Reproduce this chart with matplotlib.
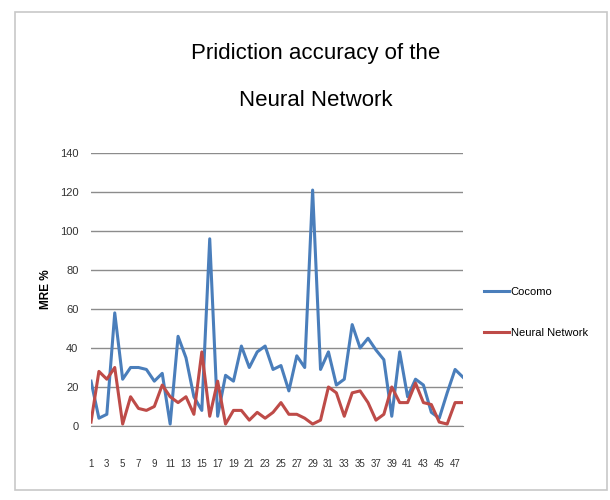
import matplotlib
matplotlib.use("Agg")
import matplotlib.pyplot as plt
from matplotlib.patches import Rectangle

categories = list(range(1, 49))
cocomo = [23, 4, 6, 58, 24, 30, 30, 29, 23, 27, 1, 46, 35, 15, 8, 96, 5, 26, 23, 41,
          30, 38, 41, 29, 31, 18, 36, 30, 121, 29, 38, 21, 24, 52, 40, 45, 39, 34, 5, 38,
          15, 24, 21, 7, 4, 17, 29, 25]
neural = [2, 28, 24, 30, 1, 15, 9, 8, 10, 21, 15, 12, 15, 6, 38, 5, 23, 1, 8, 8,
          3, 7, 4, 7, 12, 6, 6, 4, 1, 3, 20, 17, 5, 17, 18, 12, 3, 6, 20, 12,
          12, 22, 12, 11, 2, 1, 12, 12]
tick_labels = [str(c) for c in categories if c % 2 == 1]
yticks = [0, 20, 40, 60, 80, 100, 120, 140]

font = "Liberation Sans"

fig = plt.figure(figsize=(6.1, 5.0), dpi=100)
fig.patches.append(Rectangle((15/610, 10/500), 592/610, 478/500, transform=fig.transFigure,
                             fill=False, edgecolor="#c8c8c8", linewidth=1.2))

ax = fig.add_axes([91/610, 74/500, 372/610, 273/500])
ax.plot(categories, cocomo, color="#4a7ebb", linewidth=2.2, label="Cocomo")
ax.plot(categories, neural, color="#be4b48", linewidth=2.2, label="Neural Network")
ax.set_xlim(1, 48)
ax.set_ylim(0, 140)
ax.set_yticks(yticks)
ax.set_yticklabels([str(v) for v in yticks], fontfamily=font, fontsize=8, color="#333333")
ax.set_xticks([c for c in categories if c % 2 == 1])
ax.set_xticklabels(tick_labels, fontfamily=font, fontsize=7, color="#333333")
ax.tick_params(axis="both", length=0)
ax.tick_params(axis="x", pad=24)
ax.tick_params(axis="y", pad=9)
ax.grid(axis="y", color="#8c8c8c", linewidth=1.0)
ax.set_axisbelow(True)
for s in ["top", "right", "left"]:
    ax.spines[s].set_visible(False)
ax.spines["bottom"].set_color("#8c8c8c")
ax.set_ylabel("MRE %", fontfamily=font, fontweight="bold", fontsize=8.5, labelpad=6)

fig.text(316/610, 1 - 54/500, "Pridiction accuracy of the", ha="center", va="center",
         fontfamily=font, fontsize=16)
fig.text(316/610, 1 - 101/500, "Neural Network", ha="center", va="center",
         fontfamily=font, fontsize=16)

leg = ax.legend(loc="center left", bbox_to_anchor=(1.03, 0.415), frameon=False,
                prop={"family": font, "size": 8}, handlelength=2.2, handletextpad=0.2,
                labelspacing=2.8)

fig.savefig("out.png", dpi=100)
